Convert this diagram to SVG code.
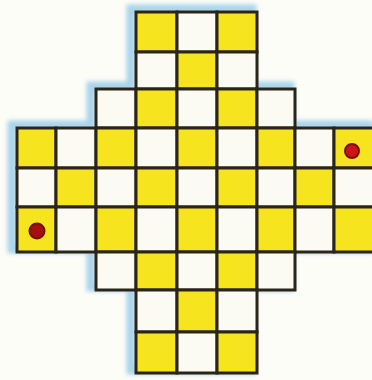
<svg xmlns="http://www.w3.org/2000/svg" width="372" height="380" viewBox="0 0 372 380">
<defs>
<style>
.y{fill:#f6e41e;stroke:#2a2518;stroke-width:3}
.w{fill:#fbfbf4;stroke:#2a2518;stroke-width:3}
.dot{stroke:#7a0c0c;stroke-width:2}
</style>
<filter id="blur" x="-10%" y="-10%" width="120%" height="120%"><feGaussianBlur stdDeviation="2"/></filter>
</defs>
<rect width="372" height="380" fill="#fdfdf8"/>
<path id="halo" d="M136,12 H257 V89 H295 V128 H374 V252 H295 V290 H257 V373 H136 V290 H96 V252 H17 V128 H96 V89 H136 Z" fill="none" stroke="#8cc6e6" stroke-width="9" opacity="0.75" transform="translate(-5,-3)" filter="url(#blur)"/>
<g id="board">
<g id="row0">
<rect class="y" x="136" y="12" width="41" height="40"/>
<rect class="w" x="177" y="12" width="40" height="40"/>
<rect class="y" x="217" y="12" width="40" height="40"/>
</g>
<g id="row1">
<rect class="w" x="136" y="52" width="41" height="37"/>
<rect class="y" x="177" y="52" width="40" height="37"/>
<rect class="w" x="217" y="52" width="40" height="37"/>
</g>
<g id="row2">
<rect class="w" x="96" y="89" width="40" height="39"/>
<rect class="y" x="136" y="89" width="41" height="39"/>
<rect class="w" x="177" y="89" width="40" height="39"/>
<rect class="y" x="217" y="89" width="40" height="39"/>
<rect class="w" x="257" y="89" width="38" height="39"/>
</g>
<g id="row3">
<rect class="y" x="17" y="128" width="39" height="40"/>
<rect class="w" x="56" y="128" width="40" height="40"/>
<rect class="y" x="96" y="128" width="40" height="40"/>
<rect class="w" x="136" y="128" width="41" height="40"/>
<rect class="y" x="177" y="128" width="40" height="40"/>
<rect class="w" x="217" y="128" width="40" height="40"/>
<rect class="y" x="257" y="128" width="38" height="40"/>
<rect class="w" x="295" y="128" width="39" height="40"/>
<rect class="y" x="334" y="128" width="42" height="40"/>
</g>
<g id="row4">
<rect class="w" x="17" y="168" width="39" height="39"/>
<rect class="y" x="56" y="168" width="40" height="39"/>
<rect class="w" x="96" y="168" width="40" height="39"/>
<rect class="y" x="136" y="168" width="41" height="39"/>
<rect class="w" x="177" y="168" width="40" height="39"/>
<rect class="y" x="217" y="168" width="40" height="39"/>
<rect class="w" x="257" y="168" width="38" height="39"/>
<rect class="y" x="295" y="168" width="39" height="39"/>
<rect class="w" x="334" y="168" width="42" height="39"/>
</g>
<g id="row5">
<rect class="y" x="17" y="207" width="39" height="45"/>
<rect class="w" x="56" y="207" width="40" height="45"/>
<rect class="y" x="96" y="207" width="40" height="45"/>
<rect class="w" x="136" y="207" width="41" height="45"/>
<rect class="y" x="177" y="207" width="40" height="45"/>
<rect class="w" x="217" y="207" width="40" height="45"/>
<rect class="y" x="257" y="207" width="38" height="45"/>
<rect class="w" x="295" y="207" width="39" height="45"/>
<rect class="y" x="334" y="207" width="42" height="45"/>
</g>
<g id="row6">
<rect class="w" x="96" y="252" width="40" height="38"/>
<rect class="y" x="136" y="252" width="41" height="38"/>
<rect class="w" x="177" y="252" width="40" height="38"/>
<rect class="y" x="217" y="252" width="40" height="38"/>
<rect class="w" x="257" y="252" width="38" height="38"/>
</g>
<g id="row7">
<rect class="w" x="136" y="290" width="41" height="42"/>
<rect class="y" x="177" y="290" width="40" height="42"/>
<rect class="w" x="217" y="290" width="40" height="42"/>
</g>
<g id="row8">
<rect class="y" x="136" y="332" width="41" height="41"/>
<rect class="w" x="177" y="332" width="40" height="41"/>
<rect class="y" x="217" y="332" width="40" height="41"/>
</g>
</g>
<g id="pieces">
<circle class="dot" cx="352" cy="151" r="7" fill="#cc1414"/>
<circle class="dot" cx="37" cy="231" r="7.5" fill="#a41010"/>
</g>
</svg>
